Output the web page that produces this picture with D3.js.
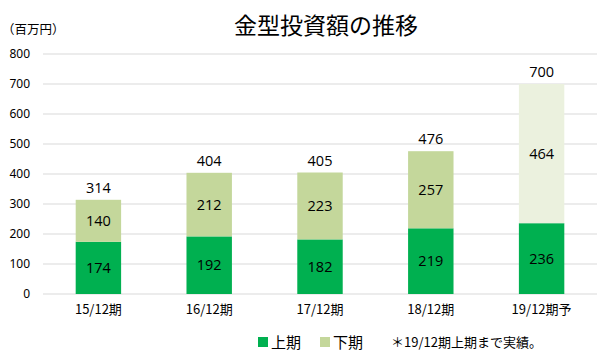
<!DOCTYPE html>
<html>
<head>
<meta charset="utf-8">
<script src="https://cdn.jsdelivr.net/npm/d3@7/dist/d3.min.js"></script>
<style>
  body { margin: 0; background: #fff; }
  svg text { font-family: "Noto Sans CJK JP", "Noto Sans", sans-serif; fill: #000; }
</style>
</head>
<body>
<svg id="chart" width="611" height="360"></svg>
<script>
var categories = ["15/12期", "16/12期", "17/12期", "18/12期", "19/12期予"];
var firstHalf = [174, 192, 182, 219, 236];
var secondHalf = [140, 212, 223, 257, 464];
var totals = [314, 404, 405, 476, 700];
var yTicks = [0, 100, 200, 300, 400, 500, 600, 700, 800];

var svg = d3.select("#chart"),
    margin = {top: 54, right: 14, bottom: 66, left: 43},
    w = +svg.attr("width") - margin.left - margin.right,
    h = +svg.attr("height") - margin.top - margin.bottom;

var x = d3.scaleBand().domain(categories).range([0, w]).padding(0);
var y = d3.scaleLinear().domain([0, 800]).range([h, 0]);
var barW = x.bandwidth() * 0.41;

var g = svg.append("g")
    .attr("transform", "translate(" + margin.left + "," + margin.top + ")");

// gridlines
g.selectAll(".grid")
    .data(yTicks)
  .enter().append("line")
    .attr("x1", 0).attr("x2", w)
    .attr("y1", function(d) { return y(d); })
    .attr("y2", function(d) { return y(d); })
    .attr("stroke", "#d9d9d9")
    .attr("stroke-width", 1.2);

var yAxis = g.append("g")
    .call(d3.axisLeft(y).tickValues(yTicks).tickSize(0).tickPadding(13));
yAxis.select(".domain").remove();
yAxis.selectAll("text")
    .style("font-size", "12px")
    .style("font-family", "'Noto Sans', sans-serif")
    .attr("fill", "#262626");

var xAxis = g.append("g")
    .attr("transform", "translate(0," + h + ")")
    .call(d3.axisBottom(x).tickSize(0).tickPadding(11));
xAxis.select(".domain").remove();
xAxis.selectAll("text")
    .style("font-size", "13px")
    .attr("fill", "#262626");

var rows = categories.map(function(c, i) {
  return {cat: c, a: firstHalf[i], b: secondHalf[i], t: totals[i], last: i == categories.length - 1};
});

// 上期
g.selectAll(".barA")
    .data(rows)
  .enter().append("rect")
    .attr("x", function(d) { return x(d.cat) + (x.bandwidth() - barW) / 2; })
    .attr("width", barW)
    .attr("y", function(d) { return y(d.a); })
    .attr("height", function(d) { return y(0) - y(d.a); })
    .attr("fill", "#00b050");

// 下期
g.selectAll(".barB")
    .data(rows)
  .enter().append("rect")
    .attr("x", function(d) { return x(d.cat) + (x.bandwidth() - barW) / 2; })
    .attr("width", barW)
    .attr("y", function(d) { return y(d.a + d.b); })
    .attr("height", function(d) { return y(d.a) - y(d.a + d.b); })
    .attr("fill", function(d) { return d.last ? "#ebf1de" : "#c4d79b"; });

var labelFont = "'Open Sans', sans-serif";

g.selectAll(".lblA")
    .data(rows)
  .enter().append("text")
    .attr("x", function(d) { return x(d.cat) + x.bandwidth() / 2; })
    .attr("y", function(d) { return y(d.a / 2); })
    .attr("dy", "0.35em")
    .attr("text-anchor", "middle")
    .style("font-size", "14.5px")
    .style("font-family", labelFont)
    .text(function(d) { return d.a; });

g.selectAll(".lblB")
    .data(rows)
  .enter().append("text")
    .attr("x", function(d) { return x(d.cat) + x.bandwidth() / 2; })
    .attr("y", function(d) { return y(d.a + d.b / 2); })
    .attr("dy", "0.35em")
    .attr("text-anchor", "middle")
    .style("font-size", "14.5px")
    .style("font-family", labelFont)
    .text(function(d) { return d.b; });

g.selectAll(".lblT")
    .data(rows)
  .enter().append("text")
    .attr("x", function(d) { return x(d.cat) + x.bandwidth() / 2; })
    .attr("y", function(d) { return y(d.t) - 12; })
    .attr("dy", "0.35em")
    .attr("text-anchor", "middle")
    .style("font-size", "14.5px")
    .style("font-family", labelFont)
    .text(function(d) { return d.t; });

// title and unit
svg.append("text")
    .attr("x", 326).attr("y", 34)
    .attr("text-anchor", "middle")
    .style("font-size", "23px")
    .text("金型投資額の推移");

svg.append("text")
    .attr("x", 2).attr("y", 34)
    .style("font-size", "12.5px")
    .attr("fill", "#262626")
    .text("（百万円）");

// legend
var legend = [{name: "上期", color: "#00b050", x: 258}, {name: "下期", color: "#c4d79b", x: 320}];
var lg = svg.selectAll(".legend")
    .data(legend)
  .enter().append("g")
    .attr("transform", function(d) { return "translate(" + d.x + ",337)"; });
lg.append("rect")
    .attr("width", 10).attr("height", 10)
    .attr("fill", function(d) { return d.color; });
lg.append("text")
    .attr("x", 13).attr("y", 5)
    .attr("dy", "0.38em")
    .style("font-size", "15px")
    .text(function(d) { return d.name; });

svg.append("text")
    .attr("x", 391).attr("y", 342)
    .attr("dy", "0.38em")
    .style("font-size", "13px")
    .text("＊19/12期上期まで実績。");
</script>
</body>
</html>
